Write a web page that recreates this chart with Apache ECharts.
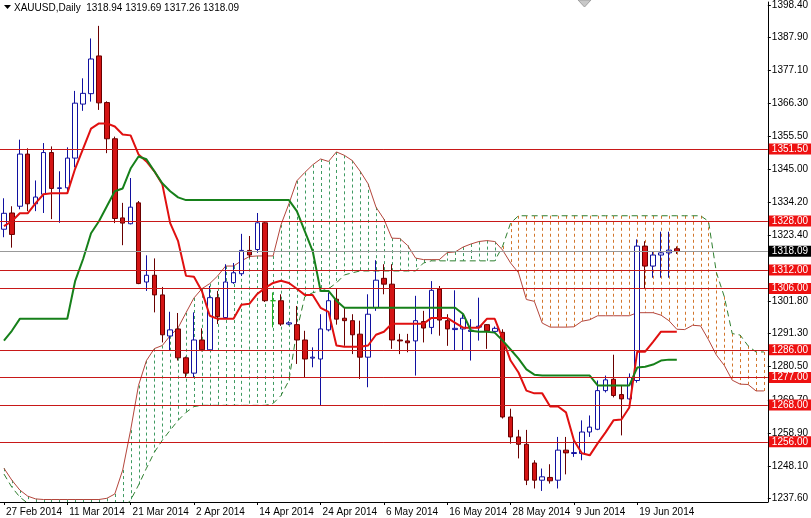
<!DOCTYPE html>
<html><head><meta charset="utf-8">
<script src="https://cdn.jsdelivr.net/npm/echarts@6/dist/echarts.min.js"></script>
<style>html,body{margin:0;padding:0;background:#fff}#c{width:811px;height:518px}</style>
</head><body><div id="c"></div>
<script>
const dates = ['27 Feb 2014','28 Feb 2014','3 Mar 2014','4 Mar 2014','5 Mar 2014','6 Mar 2014','7 Mar 2014','10 Mar 2014','11 Mar 2014','12 Mar 2014','13 Mar 2014','14 Mar 2014','17 Mar 2014','18 Mar 2014','19 Mar 2014','20 Mar 2014','21 Mar 2014','24 Mar 2014','25 Mar 2014','26 Mar 2014','27 Mar 2014','28 Mar 2014','31 Mar 2014','1 Apr 2014','2 Apr 2014','3 Apr 2014','4 Apr 2014','7 Apr 2014','8 Apr 2014','9 Apr 2014','10 Apr 2014','11 Apr 2014','14 Apr 2014','15 Apr 2014','16 Apr 2014','17 Apr 2014','18 Apr 2014','21 Apr 2014','22 Apr 2014','23 Apr 2014','24 Apr 2014','25 Apr 2014','28 Apr 2014','29 Apr 2014','30 Apr 2014','1 May 2014','2 May 2014','5 May 2014','6 May 2014','7 May 2014','8 May 2014','9 May 2014','12 May 2014','13 May 2014','14 May 2014','15 May 2014','16 May 2014','19 May 2014','20 May 2014','21 May 2014','22 May 2014','23 May 2014','26 May 2014','27 May 2014','28 May 2014','29 May 2014','30 May 2014','2 Jun 2014','3 Jun 2014','4 Jun 2014','5 Jun 2014','6 Jun 2014','9 Jun 2014','10 Jun 2014','11 Jun 2014','12 Jun 2014','13 Jun 2014','16 Jun 2014','17 Jun 2014','18 Jun 2014','19 Jun 2014','20 Jun 2014','23 Jun 2014','24 Jun 2014','25 Jun 2014','26 Jun 2014'];
const futureSlots = 11;

const opens  = [1325.3,1330.6,1332.8,1349.8,1333.6,1336.7,1350.3,1338.6,1338.8,1348.5,1366.1,1369.5,1381.8,1366.6,1354.8,1329.0,1327.1,1333.9,1308.1,1310.3,1303.9,1290.5,1292.8,1283.4,1278.4,1289.2,1286.0,1303.0,1296.5,1307.9,1310.8,1318.4,1318.7,1327.4,1302.0,1302.0,1294.4,1294.2,1289.2,1283.3,1283.0,1292.5,1302.5,1296.3,1295.5,1291.1,1283.6,1299.8,1309.3,1307.4,1289.2,1288.9,1288.9,1295.2,1293.3,1305.8,1295.5,1292.6,1292.8,1292.0,1293.4,1294.2,1292.0,1291.7,1264.1,1257.6,1255.2,1249.1,1243.5,1244.4,1243.5,1253.3,1252.2,1252.2,1259.2,1260.1,1272.7,1276.4,1271.4,1270.0,1276.0,1319.8,1313.3,1316.9,1317.6,1318.94];
const highs  = [1335.4,1332.8,1354.5,1351.7,1341.2,1353.4,1352.3,1344.2,1352.0,1370.4,1374.5,1387.5,1391.6,1367.0,1355.5,1333.9,1342.0,1334.5,1316.8,1315.8,1306.5,1298.4,1298.0,1283.8,1298.2,1293.0,1306.8,1305.2,1313.9,1314.3,1323.8,1323.1,1330.6,1327.6,1304.7,1304.1,1295.3,1300.3,1292.2,1286.8,1297.6,1304.7,1305.8,1299.8,1297.6,1295.5,1304.1,1315.2,1313.9,1313.9,1291.2,1291.2,1303.6,1298.7,1308.4,1306.8,1297.6,1305.4,1297.6,1296.0,1303.0,1294.4,1293.6,1292.7,1266.8,1259.9,1259.9,1250.0,1247.3,1248.7,1257.6,1257.6,1256.5,1263.0,1264.6,1276.0,1277.6,1284.4,1274.4,1278.3,1322.0,1321.4,1318.2,1324.5,1324.5,1319.69];
const lows   = [1322.7,1319.3,1331.8,1331.2,1331.2,1330.6,1328.6,1327.4,1337.7,1345.5,1363.9,1366.9,1364.2,1350.1,1327.3,1320.1,1326.9,1307.4,1305.2,1298.2,1288.4,1285.7,1282.5,1277.1,1277.1,1285.5,1285.7,1294.4,1296.1,1307.5,1310.1,1316.0,1317.6,1301.6,1293.3,1293.8,1294.0,1281.4,1277.1,1280.3,1267.9,1292.0,1294.2,1287.3,1284.6,1276.5,1273.8,1298.7,1304.1,1286.3,1284.6,1285.2,1277.6,1288.4,1291.1,1290.6,1287.3,1285.7,1285.7,1282.5,1289.0,1286.3,1291.4,1263.6,1255.4,1250.6,1241.9,1240.8,1240.0,1242.4,1240.8,1245.4,1251.1,1250.0,1257.6,1259.8,1272.1,1270.5,1258.1,1269.6,1275.3,1305.8,1309.5,1309.5,1309.5,1317.26];
const closes = [1330.5,1323.6,1349.8,1333.6,1335.8,1350.3,1338.6,1338.8,1348.5,1366.4,1369.6,1380.8,1366.5,1354.8,1328.8,1327.3,1332.5,1307.6,1310.3,1303.9,1290.9,1292.5,1283.4,1278.4,1289.2,1286.0,1303.0,1296.8,1308.1,1311.1,1318.4,1316.9,1327.4,1302.0,1302.0,1294.4,1294.8,1289.2,1283.0,1283.6,1292.8,1302.0,1296.0,1295.5,1290.9,1283.6,1297.6,1308.7,1307.4,1289.2,1288.9,1288.3,1295.5,1293.1,1305.4,1295.7,1292.8,1293.0,1296.3,1292.4,1293.7,1292.2,1293.0,1264.1,1257.6,1255.2,1243.5,1243.5,1244.6,1243.3,1253.3,1252.4,1252.5,1259.2,1260.8,1272.7,1276.2,1271.1,1270.0,1277.0,1319.8,1313.3,1316.9,1317.6,1318.5,1318.09];

const tenkan = [1326.3,1327.9,1330.5,1330.5,1333.8,1336.7,1337.0,1337.0,1337.0,1345.1,1351.6,1358.1,1359.8,1359.8,1358.8,1356.2,1355.9,1349.7,1347.4,1344.2,1340.0,1327.3,1321.4,1310.1,1309.8,1305.2,1297.1,1296.1,1296.1,1296.1,1300.7,1301.0,1304.2,1306.2,1307.8,1308.5,1307.8,1305.9,1303.9,1303.9,1299.7,1298.4,1287.4,1287.0,1287.0,1287.0,1287.4,1290.9,1291.9,1294.5,1294.5,1294.5,1294.5,1294.5,1296.4,1296.4,1296.4,1294.8,1293.2,1293.2,1293.2,1296.1,1296.1,1289.6,1282.5,1278.6,1272.7,1271.8,1271.8,1267.5,1267.5,1265.6,1256.5,1252.3,1251.6,1255.5,1259.1,1263.0,1263.3,1267.2,1285.4,1285.4,1288.6,1291.9,1291.9,1291.9];
const kijun  = [1289.0,1292.2,1296.1,1296.1,1296.1,1296.1,1296.1,1296.1,1296.1,1308.5,1315.6,1324.0,1327.9,1332.8,1337.7,1338.6,1345.1,1349.0,1348.1,1344.2,1340.3,1337.7,1335.7,1334.8,1334.8,1334.8,1334.8,1334.8,1334.8,1334.8,1334.8,1334.8,1334.8,1334.8,1334.8,1334.8,1334.8,1331.2,1324.7,1318.2,1305.2,1305.2,1302.0,1299.7,1299.7,1299.7,1299.7,1299.7,1299.7,1299.7,1299.7,1299.7,1299.7,1299.7,1299.7,1299.7,1299.7,1299.7,1297.7,1292.2,1291.9,1291.9,1291.6,1289.0,1286.1,1283.1,1279.6,1277.9,1277.6,1277.6,1277.6,1277.6,1277.6,1277.6,1277.6,1274.4,1274.4,1274.4,1274.4,1274.4,1280.2,1280.5,1281.2,1282.5,1282.8,1282.8];
const spanA  = [1247.4,1243.5,1240.3,1238.3,1237.4,1237.2,1237.2,1237.2,1237.2,1237.2,1237.2,1237.2,1237.2,1237.6,1239.0,1246.8,1259.8,1274.4,1282.5,1286.4,1287.4,1290.6,1293.2,1298.1,1302.9,1305.9,1307.6,1310.1,1313.3,1313.3,1315.0,1316.4,1316.6,1316.6,1316.6,1326.8,1333.6,1341.1,1343.8,1346.3,1348.2,1347.4,1350.5,1349.4,1347.7,1344.2,1340.1,1332.5,1328.6,1322.4,1322.3,1320.0,1315.9,1315.4,1315.4,1315.4,1317.7,1317.9,1319.5,1320.5,1321.3,1321.6,1321.3,1318.5,1314.3,1311.1,1302.4,1301.8,1294.7,1293.4,1293.4,1293.4,1293.5,1295.3,1295.8,1297.1,1297.1,1297.1,1297.1,1297.1,1298.1,1298.1,1298.1,1297.3,1295.5,1292.7,1292.6,1294.0,1293.8,1289.3,1284.3,1280.9,1276.1,1274.8,1274.7,1272.6,1272.6];
const spanB  = [1245.5,1241.2,1238.0,1236.0,1233.8,1233.8,1233.8,1233.8,1233.8,1233.8,1233.8,1233.8,1233.8,1233.8,1233.8,1234.4,1237.0,1241.9,1247.4,1252.6,1256.5,1259.8,1263.0,1265.6,1267.5,1267.9,1267.9,1267.9,1267.9,1267.9,1267.9,1267.9,1267.9,1267.9,1268.5,1271.1,1276.0,1292.2,1303.3,1304.6,1305.2,1305.9,1307.8,1310.4,1311.1,1311.7,1311.7,1311.7,1311.7,1311.7,1311.7,1311.7,1311.7,1314.3,1315.0,1315.0,1315.0,1315.0,1315.0,1315.0,1315.0,1315.0,1315.0,1319.8,1327.3,1329.7,1329.7,1329.7,1329.7,1329.7,1329.7,1329.7,1329.7,1329.7,1329.7,1329.7,1329.7,1329.7,1329.7,1329.7,1329.7,1329.7,1329.7,1329.7,1329.7,1329.7,1329.7,1329.7,1329.7,1327.9,1311.2,1303.3,1291.3,1290.8,1287.3,1285.3,1285.3];

const levels = [1351.50, 1328.00, 1312.00, 1306.00, 1286.00, 1277.00, 1268.00, 1256.00];
const bidPrice = 1318.09;
const priceTicks = [1398.40,1387.90,1377.10,1366.30,1355.50,1345.00,1334.20,1323.40,1301.80,1291.30,1280.50,1269.70,1258.90,1248.10,1237.60];
const symbolName = 'XAUUSD,Daily';
const lastBar = [1318.94, 1319.69, 1317.26, 1318.09];

const FONT = "'Liberation Sans',Arial,sans-serif";
const FS = 10;
const categories = dates.concat(Array(futureSlots).fill(''));
const candleData = opens.map((o, i) => [o, closes[i], lows[i], highs[i]]);
const cloudData = spanA.map((a, i) => [i, a, spanB[i]]);

const chart = echarts.init(document.getElementById('c'), null, {renderer: 'canvas'});
const labelEvery = (idx) => idx % 8 === 0 && idx < dates.length;

chart.setOption({
  animation: false,
  backgroundColor: '#ffffff',
  grid: {left: -4, right: 39, top: 0, bottom: 16, containLabel: false},
  xAxis: {
    type: 'category', data: categories, boundaryGap: true,
    axisLine: {show: true, lineStyle: {color: '#000', width: 1}},
    axisTick: {show: true, alignWithLabel: true, interval: labelEvery, length: 3, lineStyle: {color: '#000'}},
    axisLabel: {show: true, interval: labelEvery, align: 'left', margin: 5, padding: [0, 0, 0, 2],
      color: '#000', fontSize: FS, fontFamily: FONT},
    splitLine: {show: false}
  },
  yAxis: {
    type: 'value', position: 'right', min: 1236.39, max: 1399.37, scale: true,
    axisLine: {show: true, onZero: false, lineStyle: {color: '#000', width: 1}},
    axisTick: {show: true, length: 3, customValues: priceTicks, lineStyle: {color: '#000'}},
    axisLabel: {show: true, customValues: priceTicks, margin: 4, color: '#000', fontSize: FS, fontFamily: FONT,
      formatter: (v) => Number(v).toFixed(2)},
    splitLine: {show: false}
  },
  graphic: [
    {type: 'polygon', shape: {points: [[4, 5], [11, 5], [7.5, 9]]}, style: {fill: '#000'}},
    {type: 'text', left: 14, top: 3, style: {text: symbolName + '  ' + lastBar.map(v => v.toFixed(2)).join(' '), fill: '#000', font: FS + 'px ' + FONT}},
    {type: 'polygon', shape: {points: [[578, 0], [591, 0], [584.5, 7]]}, style: {fill: '#c8c8c8', stroke: '#a0a0a0'}}
  ],
  series: [
    {
      type: 'custom', name: 'kumo', z: 1, silent: true,
      data: cloudData,
      encode: {x: 0, y: [1, 2]},
      renderItem: function (params, api) {
        const i = api.value(0), a = api.value(1), b = api.value(2);
        const pa = api.coord([i, a]), pb = api.coord([i, b]);
        const cs = params.coordSys;
        const y1 = Math.max(cs.y, Math.min(pa[1], pb[1]));
        const y2 = Math.min(cs.y + cs.height, Math.max(pa[1], pb[1]));
        if (y2 <= y1) return null;
        const x = Math.round(pa[0]) + 0.5;
        return {type: 'line', shape: {x1: x, y1: y1, x2: x, y2: y2},
          style: {stroke: a > b ? '#3f9a62' : '#d2762c', lineWidth: 1, lineDash: [3, 3]}};
      }
    },
    {type: 'line', name: 'Senkou Span A', z: 2, data: spanA, symbol: 'none', silent: true,
      lineStyle: {color: '#b4463c', width: 1}},
    {type: 'line', name: 'Senkou Span B', z: 2, data: spanB, symbol: 'none', silent: true,
      lineStyle: {color: '#2f7f2f', width: 1, type: [6, 4]}},
    {
      type: 'candlestick', name: 'XAUUSD', z: 3, data: candleData, barWidth: 5,
      itemStyle: {color: '#ffffff', color0: '#d41414', borderColor: '#1010a0', borderColor0: '#6a0000',
        borderColorDoji: '#22b022', borderWidth: 1},
      markLine: {
        silent: true, symbol: ['none', 'none'], animation: false,
        lineStyle: {color: '#c81818', width: 1, type: 'solid'},
        label: {show: true, position: 'end', distance: 1, formatter: (p) => Number(p.value).toFixed(2),
          color: '#fff', backgroundColor: '#ee1111', padding: [1, 3, 0, 3], fontSize: FS, fontFamily: FONT},
        data: levels.map(v => ({yAxis: v})).concat([{yAxis: bidPrice,
          lineStyle: {color: '#999999', width: 1, type: 'solid'},
          label: {backgroundColor: '#000000', color: '#fff'}}])
      }
    },
    {type: 'line', name: 'Tenkan-sen', z: 4, data: tenkan, symbol: 'none', silent: true,
      lineStyle: {color: '#e01010', width: 2}},
    {type: 'line', name: 'Kijun-sen', z: 4, data: kijun, symbol: 'none', silent: true,
      lineStyle: {color: '#16801a', width: 2}}
  ]
});
</script></body></html>
